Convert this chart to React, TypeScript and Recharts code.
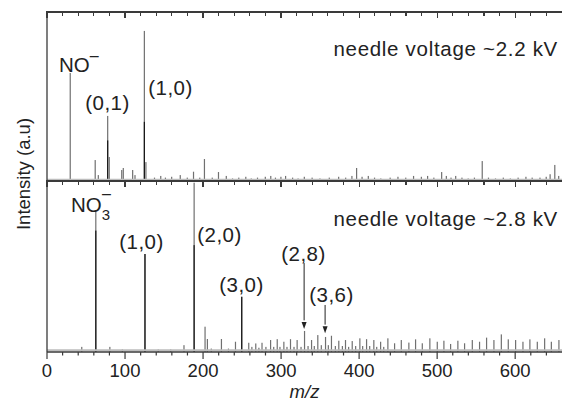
import { BarChart, Bar, XAxis, YAxis, ReferenceLine, ReferenceDot } from "recharts";

// upper spectrum (needle voltage ~2.2 kV): m/z and intensity
const upperMz = [
  30, 62, 66, 78, 80, 96, 98, 110, 113, 125, 127, 138, 146, 152, 160, 171, 180, 188, 196, 202,
  212, 220, 230, 238, 246, 255, 262, 270, 280, 287, 293, 300, 306, 315, 322, 330, 340, 350, 362, 374,
  383, 391, 397, 404, 412, 420, 428, 440, 450, 460, 470, 480, 488, 496, 506, 512, 518, 524, 532, 540,
  548, 558, 566, 575, 585, 594, 604, 614, 622, 632, 640, 645, 651, 656,
];
const upperInt = [
  63.9, 12.4, 3.5, 38.5, 14.2, 6.5, 7.7, 6.5, 3.5, 88.8, 11.2, 2, 3, 2, 2.5, 3.5, 2, 5.5, 2, 13,
  2, 5.3, 3, 1.5, 2, 2.5, 1.5, 2, 2.5, 3, 2, 2.5, 3, 2, 1.5, 2.5, 2, 1.5, 2, 2.5,
  2, 3, 7.7, 2.5, 3, 2, 1.5, 2, 2.5, 2, 3, 2.5, 3, 2, 5.3, 3, 2, 3, 2, 1.5,
  2, 11.8, 2, 1.5, 2, 1.5, 2, 2.5, 2, 2, 2.5, 4, 9.5, 3,
];
// dark lower part of the tall peaks
const upperCore: Record<number, number> = { 78: 24, 125: 35 };

// lower spectrum (needle voltage ~2.8 kV)
const lowerMz = [
  44, 62, 80, 96, 125, 142, 158, 175, 188, 202, 205, 210, 223, 232, 241, 249, 258, 262, 267, 271,
  275, 280, 286, 290, 294.5, 298, 303, 307, 311.5, 316, 320, 325, 329.5, 334, 338.5, 342, 346.5, 351, 356.4, 360,
  364, 369, 373.4, 378, 382, 386, 390.6, 395, 400.4, 404, 409, 413, 418.3, 422, 427, 431, 436.3, 444.9, 453.5, 463.2,
  471.8, 480.4, 490.1, 499.6, 508.1, 516.7, 526, 534.6, 544.5, 553.8, 562.8, 572.2, 581.7, 590.6, 600, 609.4, 618.3, 627.8, 637.2, 645.8,
  655.5,
];
const lowerInt = [
  3, 82, 3, 1.5, 57.3, 1.5, 1.5, 4, 99, 14.8, 7.6, 2, 7.6, 2, 6, 32.3, 5.4, 3, 5, 2.5,
  5.4, 3, 7, 3, 7.5, 3, 6, 3, 7.5, 3, 7, 3, 12.3, 3.5, 7, 3.5, 9.9, 4, 8.8, 4,
  9.5, 3.5, 6.6, 3.5, 7, 3, 6.4, 3.5, 8, 3.5, 7.5, 3.5, 7, 3, 6, 3, 8, 5.1, 7, 5.5,
  7.4, 5.1, 8, 6, 6.6, 4.7, 6.6, 5.1, 7, 6, 8.4, 7, 10.3, 7.4, 7, 6, 7.4, 6, 8, 6,
  7,
];
const lowerCore: Record<number, number> = { 62: 71, 125: 57.3, 188: 62.5, 249: 32.3 };

const xTicks = [0, 20, 40, 60, 80, 100, 120, 140, 160, 180, 200, 220, 240, 260, 280, 300, 320, 340, 360, 380,
  400, 420, 440, 460, 480, 500, 520, 540, 560, 580, 600, 620, 640];
const xLabels = [0, 100, 200, 300, 400, 500, 600];

// arrows: m/z, start and tip intensity
const arrows = [
  { mz: 329.5, from: 52, to: 13.5 },
  { mz: 356.4, from: 27.5, to: 11 },
];

const upperData = upperMz.map((mz, i) => ({ mz, v: upperInt[i], core: upperCore[mz] || 0 }));
const lowerData = lowerMz.map((mz, i) => ({ mz, v: lowerInt[i], core: lowerCore[mz] || 0 }));

const FONT = "'Liberation Sans', Arial, Helvetica, sans-serif";
const FRAME = "#3a3a3a";
const DOMAIN: [number, number] = [0, 660];
// plot box shared by both panels
const PLOT_LEFT = 47;
const PLOT_W = 515;
const PANEL_TOPS = [12, 181];

const Peak = (props: any) => {
  const { x, y, width, height, payload } = props;
  if (!height || height <= 0) return null;
  const coreH = payload.core ? (height * payload.core) / payload.v : 0;
  return (
    <g>
      <rect x={x} y={y} width={width} height={height} fill="#707070" />
      {coreH > 0 && <rect x={x} y={y + height - coreH} width={width} height={coreH} fill="#151515" />}
    </g>
  );
};

const OutTick = (props: any) => {
  const { x, y, payload } = props;
  const major = payload.value % 100 === 0;
  return (
    <g>
      <line x1={x} x2={x} y1={y} y2={y + (major ? 7 : 3.5)} stroke={FRAME} strokeWidth={1.2} />
      {xLabels.includes(payload.value) && (
        <text x={x} y={y + 25} textAnchor="middle" fontSize={18.5} fontFamily={FONT} fill="#222">
          {payload.value}
        </text>
      )}
    </g>
  );
};

const ArrowHead = (props: any) => {
  const { cx, cy } = props;
  return <path d={`M${cx - 2.5},${cy - 7}L${cx + 2.5},${cy - 7}L${cx},${cy}Z`} fill="#222" />;
};

const axisLine = { stroke: FRAME, strokeWidth: 1.3 };

// top edge of a panel with inward ticks, drawn as plain boxes
const PanelTop = ({ top }: { top: number }) => (
  <div style={{ position: "absolute", left: PLOT_LEFT, top: top - 0.65, width: PLOT_W, height: 8, pointerEvents: "none" }}>
    <div style={{ position: "absolute", left: 0, top: 0, width: PLOT_W, height: 1.3, background: FRAME }} />
    {xTicks.map((t) => (
      <div key={t} style={{
        position: "absolute", left: (t / DOMAIN[1]) * PLOT_W - 0.6, top: 0, width: 1.2,
        height: t % 100 === 0 ? 6.6 : 4.6, background: FRAME,
      }} />
    ))}
  </div>
);

export default function App() {
  return (
    <div style={{ position: "absolute", left: 0, top: 0, width: 562, height: 405, background: "#fff" }}>
      <div style={{ position: "absolute", left: 0, top: 0 }}>
        <BarChart width={562} height={182} data={upperData} margin={{ top: 12, right: 0, bottom: 1, left: 0 }}>
          <XAxis dataKey="mz" type="number" domain={DOMAIN} allowDataOverflow orientation="bottom"
            height={0} tick={false} tickLine={false} axisLine={axisLine} />
          <YAxis type="number" domain={[0, 100]} allowDataOverflow width={47} tick={false} tickLine={false} axisLine={axisLine} />
          <ReferenceLine y={0.8} stroke="#bdbdbd" strokeWidth={2} />
          <Bar dataKey="v" barSize={1.2} shape={<Peak />} isAnimationActive={false} />
        </BarChart>
      </div>
      <div style={{ position: "absolute", left: 0, top: 170 }}>
        <BarChart width={562} height={235} data={lowerData} margin={{ top: 11, right: 0, bottom: 0, left: 0 }}>
          <XAxis dataKey="mz" type="number" domain={DOMAIN} allowDataOverflow orientation="bottom" height={53}
            ticks={xTicks} interval={0} tickSize={0} tickMargin={0} tickLine={false} tick={<OutTick />} axisLine={axisLine}
            label={{ value: "m/z", position: "insideBottom", offset: 7, fontSize: 18.5, fontStyle: "italic", fontFamily: FONT, fill: "#222" }} />
          <YAxis type="number" domain={[0, 100]} allowDataOverflow width={47} tick={false} tickLine={false} axisLine={axisLine} />
          <ReferenceLine y={1} stroke="#bdbdbd" strokeWidth={2} />
          <Bar dataKey="v" barSize={1.2} shape={<Peak />} isAnimationActive={false} />
          {arrows.map((a) => (
            <ReferenceLine key={`l${a.mz}`} segment={[{ x: a.mz, y: a.from }, { x: a.mz, y: a.to + 5 }]} stroke="#222" strokeWidth={1} />
          ))}
          {arrows.map((a) => (
            <ReferenceDot key={`d${a.mz}`} x={a.mz} y={a.to} r={0} shape={<ArrowHead />} />
          ))}
        </BarChart>
      </div>
      {PANEL_TOPS.map((top) => <PanelTop key={top} top={top} />)}
      <svg width={562} height={405} style={{ position: "absolute", left: 0, top: 0, pointerEvents: "none" }}
        fontFamily={FONT} fontSize={20.5} fill="#222">
        <text transform="rotate(-90)" x={-174} y={29.5} textAnchor="middle" fontSize={18.5}>Intensity (a.u)</text>
        <text x={59} y={72}>NO<tspan dy={-11} fontSize={16}>–</tspan></text>
        <text x={107.5} y={110} textAnchor="middle" letterSpacing={0.5}>(0,1)</text>
        <text x={170.5} y={95} textAnchor="middle" letterSpacing={0.5}>(1,0)</text>
        <text x={558} y={56} textAnchor="end" letterSpacing={0.7}>needle voltage ~2.2 kV</text>
        <text x={71} y={212}>NO<tspan dy={8} fontSize={15}>3</tspan><tspan dx={-8} dy={-21} fontSize={16}>–</tspan></text>
        <text x={141.5} y={249} textAnchor="middle" letterSpacing={0.5}>(1,0)</text>
        <text x={219.5} y={242} textAnchor="middle" letterSpacing={0.5}>(2,0)</text>
        <text x={241.5} y={292} textAnchor="middle" letterSpacing={0.5}>(3,0)</text>
        <text x={303.5} y={261} textAnchor="middle" letterSpacing={0.5}>(2,8)</text>
        <text x={331.5} y={302} textAnchor="middle" letterSpacing={0.5}>(3,6)</text>
        <text x={558} y={226} textAnchor="end" letterSpacing={0.7}>needle voltage ~2.8 kV</text>
      </svg>
    </div>
  );
}
